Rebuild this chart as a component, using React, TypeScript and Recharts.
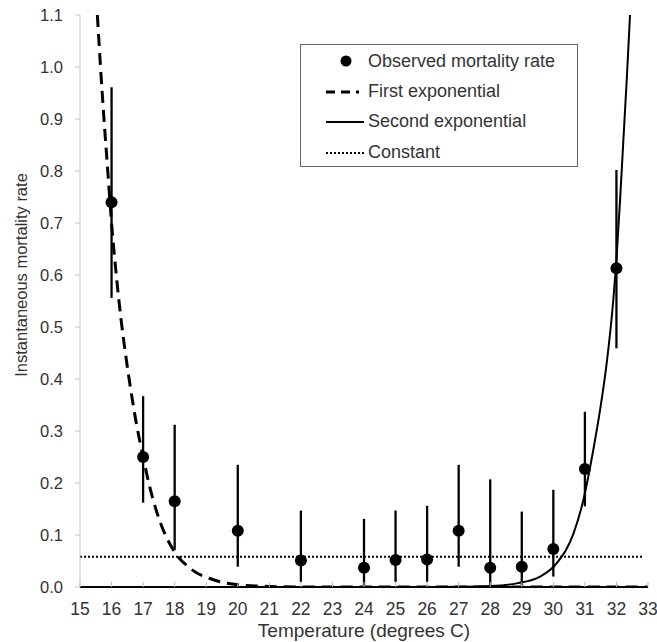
import React from 'react';
import { ComposedChart, Line, Scatter, ErrorBar, XAxis, YAxis, Legend } from 'recharts';

// Observed mortality rate with 95% range
const temps = [16, 17, 18, 20, 22, 24, 25, 26, 27, 28, 29, 30, 31, 32];
const observed = [0.74, 0.25, 0.165, 0.108, 0.051, 0.037, 0.052, 0.053, 0.108, 0.037, 0.039, 0.073, 0.227, 0.613];
const lower = [0.556, 0.162, 0.071, 0.039, 0.01, 0.003, 0.01, 0.01, 0.039, 0.002, 0.004, 0.02, 0.155, 0.459];
const upper = [0.961, 0.367, 0.312, 0.235, 0.147, 0.131, 0.147, 0.156, 0.235, 0.207, 0.145, 0.187, 0.337, 0.802];

// First exponential (dashed)
const firstX = [15.55, 15.65, 15.76, 15.88, 16.0, 16.15, 16.3, 16.45, 16.62, 16.8, 17.0, 17.22, 17.54, 17.96, 18.49, 19.23, 20.07, 21, 22, 33];
const firstY = [1.1, 1.0, 0.9, 0.8, 0.7, 0.6, 0.515, 0.445, 0.375, 0.31, 0.25, 0.19, 0.125, 0.071, 0.036, 0.014, 0.004, 0.001, 0, 0];

// Second exponential (solid)
const secondX = [20, 26, 27, 28, 28.84, 29.58, 30.11, 30.64, 30.95, 31.27, 31.48, 31.69, 31.9, 32.0, 32.12, 32.22, 32.33, 32.43];
const secondY = [0, 0, 0.0005, 0.002, 0.007, 0.02, 0.046, 0.103, 0.167, 0.265, 0.34, 0.43, 0.552, 0.63, 0.75, 0.86, 0.98, 1.1];

// Constant (dotted)
const constX = [15, 32.85];
const constY = [0.058, 0.058];

const xTicks = [15, 16, 17, 18, 19, 20, 21, 22, 23, 24, 25, 26, 27, 28, 29, 30, 31, 32, 33];
const yTicks = [0, 0.1, 0.2, 0.3, 0.4, 0.5, 0.6, 0.7, 0.8, 0.9, 1.0, 1.1];

const FONT = '"Liberation Sans", Arial, sans-serif';
const TEXT = '#333';

const obsData = temps.map((t, i) => ({ x: t, y: observed[i], err: [observed[i] - lower[i], upper[i] - observed[i]] }));
const firstData = firstX.map((x, i) => ({ x, y: firstY[i] }));
const secondData = secondX.map((x, i) => ({ x, y: secondY[i] }));
const constData = constX.map((x, i) => ({ x, y: constY[i] }));

const legendRows = [
  { label: 'Observed mortality rate', kind: 'dot' },
  { label: 'First exponential', kind: 'dash' },
  { label: 'Second exponential', kind: 'solid' },
  { label: 'Constant', kind: 'dotted' },
];

const CustomLegend = () => (
  <div style={{ width: 278, height: 123, border: '1.3px solid #666', boxSizing: 'border-box', fontFamily: FONT, position: 'relative' }}>
    {legendRows.map((r, i) => (
      <div key={i} style={{ position: 'absolute', left: 0, top: [16, 46.5, 76.5, 107.5][i] - 12, height: 24, display: 'flex', alignItems: 'center' }}>
        <svg width={67} height={24} style={{ display: 'block' }}>
          {r.kind === 'dot' && <circle cx={45} cy={12} r={5.5} fill="#000" />}
          {r.kind === 'dash' && <line x1={25} y1={12} x2={58} y2={12} stroke="#000" strokeWidth={3} strokeDasharray="9 6" />}
          {r.kind === 'solid' && <line x1={25} y1={12} x2={63} y2={12} stroke="#000" strokeWidth={2} />}
          {r.kind === 'dotted' && <line x1={25} y1={12} x2={63} y2={12} stroke="#000" strokeWidth={2} strokeDasharray="2 2" />}
        </svg>
        <span style={{ fontSize: 18, color: TEXT, whiteSpace: 'nowrap' }}>{r.label}</span>
      </div>
    ))}
  </div>
);

export default function App() {
  return (
    <div style={{ position: 'absolute', left: 0, top: 0, background: '#fff' }}>
      <ComposedChart width={657} height={642} margin={{ top: 15, right: 9, bottom: 0, left: 0 }}>
        <XAxis
          dataKey="x"
          type="number"
          domain={[15, 33]}
          ticks={xTicks}
          interval={0}
          allowDataOverflow
          height={55}
          axisLine={{ stroke: '#000', strokeWidth: 2 }}
          tickLine={{ stroke: '#bbb' }}
          tickSize={-5}
          tickMargin={21}
          tick={{ fontSize: 17.5, fill: TEXT, fontFamily: FONT }}
          label={{ value: 'Temperature (degrees C)', position: 'insideBottom', offset: 5, fontSize: 19, fill: TEXT, fontFamily: FONT }}
        />
        <YAxis
          dataKey="y"
          type="number"
          domain={[0, 1.1]}
          ticks={yTicks}
          interval={0}
          allowDataOverflow
          width={80}
          axisLine={{ stroke: '#c4c4c4' }}
          tickLine={{ stroke: '#c4c4c4' }}
          tickSize={5}
          tickMargin={12}
          tickFormatter={(v) => v.toFixed(1)}
          tick={{ fontSize: 16.5, fill: TEXT, fontFamily: FONT }}
          label={{ value: 'Instantaneous mortality rate', angle: -90, position: 'center', dx: -19, dy: -26, fontSize: 16.5, fill: TEXT, fontFamily: FONT }}
        />
        <Legend
          content={<CustomLegend />}
          layout="horizontal"
          verticalAlign="middle"
          align="center"
          wrapperStyle={{ left: 300, top: 44, width: 278, height: 123 }}
        />
        <Line data={constData} dataKey="y" type="linear" stroke="#000" strokeWidth={2} strokeDasharray="2 2" dot={false} isAnimationActive={false} legendType="none" />
        <Line data={secondData} dataKey="y" type="monotone" stroke="#000" strokeWidth={2} dot={false} isAnimationActive={false} legendType="none" />
        <Line data={firstData} dataKey="y" type="monotone" stroke="#000" strokeWidth={3} strokeDasharray="12 7" dot={false} isAnimationActive={false} legendType="none" />
        <Scatter
          data={obsData}
          dataKey="y"
          fill="#000"
          isAnimationActive={false}
          legendType="none"
          shape={(p: any) => <circle cx={p.cx} cy={p.cy} r={6} fill="#000" />}
        >
          <ErrorBar dataKey="err" direction="y" width={0} stroke="#000" strokeWidth={2.3} isAnimationActive={false} />
        </Scatter>
      </ComposedChart>
    </div>
  );
}
